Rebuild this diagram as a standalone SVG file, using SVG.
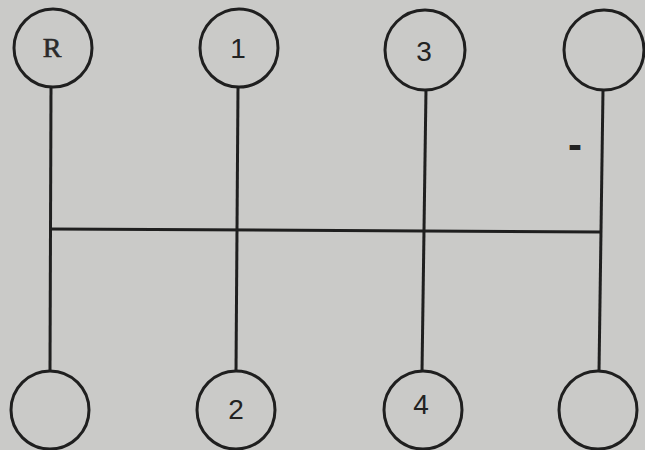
<svg xmlns="http://www.w3.org/2000/svg" width="645" height="450" viewBox="0 0 645 450">
<style>
.n{fill:none;stroke:#1f1f1f;stroke-width:3}
.c{stroke:#1f1f1f;stroke-width:3;fill:none}
.t{font-family:"Liberation Serif",serif;font-size:28px;fill:#2a2a2a;text-anchor:middle}
.d{font-family:"Liberation Sans",sans-serif;font-size:28px;fill:#222;text-anchor:middle}
</style>
<rect width="645" height="450" fill="#cacac8"/>
<g id="connectors">
<line class="c" x1="51" y1="87" x2="50" y2="372"/>
<line class="c" x1="238" y1="87" x2="236" y2="372"/>
<line class="c" x1="426" y1="89" x2="422" y2="372"/>
<line class="c" x1="603" y1="90" x2="599" y2="372"/>
<line class="c" x1="50" y1="229" x2="601" y2="232"/>
</g>
<g id="nR"><circle class="n" cx="53" cy="48" r="39"/><text class="t" x="52" y="57" stroke="#2a2a2a" stroke-width="0.6">R</text></g>
<g id="n1"><circle class="n" cx="239" cy="48" r="39"/><text class="d" x="238" y="58">1</text></g>
<g id="n3"><circle class="n" cx="425" cy="50" r="40"/><text class="d" x="424" y="61">3</text></g>
<g id="nTR"><circle class="n" cx="604" cy="50" r="40"/></g>
<g id="nBL"><circle class="n" cx="50" cy="410" r="39"/></g>
<g id="n2"><circle class="n" cx="236" cy="410" r="39"/><text class="d" x="236" y="419">2</text></g>
<g id="n4"><circle class="n" cx="423" cy="410" r="39"/><text class="d" x="421" y="414">4</text></g>
<g id="nBR"><circle class="n" cx="598" cy="410" r="39"/></g>
<text class="d" x="575" y="159" style="font-size:42px;font-weight:bold">-</text>
</svg>
